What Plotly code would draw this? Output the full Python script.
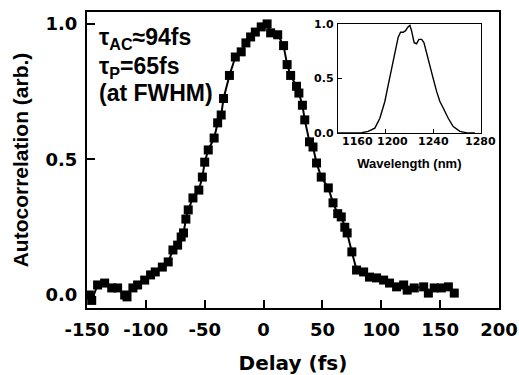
import plotly.graph_objects as go

# Autocorrelation data (delay in fs, normalized signal)
delay_fs = [-148, -146, -141, -135, -129, -124, -118, -116, -111, -107, -101, -96, -92, -86,
            -81, -77, -73, -70, -68, -66, -64, -60, -55, -52, -50, -47, -42, -39, -36, -34,
            -29, -24, -19, -15, -11, -7, -2, 3, 6, 12, 17, 20, 23, 28, 30, 33, 35, 39, 42,
            45, 49, 55, 59, 63, 66, 69, 71, 75, 79, 85, 90, 96, 102, 107, 113, 119, 122,
            128, 136, 140, 145, 151, 157, 162]
autocorr = [0.0, -0.02, 0.037, 0.044, 0.026, 0.026, 0.0, -0.007, 0.026, 0.037, 0.055, 0.074,
            0.085, 0.103, 0.122, 0.166, 0.184, 0.214, 0.229, 0.28, 0.314, 0.358, 0.387, 0.435,
            0.49, 0.535, 0.579, 0.635, 0.664, 0.725, 0.81, 0.878, 0.897, 0.93, 0.952, 0.97,
            0.989, 1.0, 0.967, 0.96, 0.92, 0.85, 0.81, 0.77, 0.745, 0.70, 0.646, 0.565, 0.546,
            0.487, 0.435, 0.395, 0.34, 0.30, 0.288, 0.25, 0.229, 0.159, 0.092, 0.085, 0.066,
            0.063, 0.055, 0.044, 0.03, 0.037, 0.018, 0.026, 0.03, 0.007, 0.026, 0.026, 0.03,
            0.007]

# Inset spectrum
wavelength_nm = [1160, 1175, 1180, 1185.4, 1191, 1195.2, 1199.4, 1202.2, 1205, 1207.8, 1210.6,
                 1212.6, 1214.8, 1216.8, 1218.5, 1220.4, 1221.8, 1224, 1226, 1228, 1230.3,
                 1232.2, 1234.5, 1237.2, 1240, 1242.9, 1245.6, 1248.4, 1252.6, 1256.8, 1262.4,
                 1269.4, 1275]
spectrum = [0.0, 0.0, 0.003, 0.015, 0.045, 0.136, 0.29, 0.44, 0.59, 0.74, 0.88, 0.925, 0.925,
            0.94, 0.97, 0.99, 0.94, 0.83, 0.82, 0.86, 0.86, 0.83, 0.74, 0.62, 0.50, 0.38, 0.29,
            0.23, 0.136, 0.06, 0.015, 0.0, 0.0]

main_xticks = [-150, -100, -50, 0, 50, 100, 150, 200]
main_xticklabels = ["-150", "-100", "-50", "0", "50", "100", "150", "200"]
main_yticks = [0.0, 0.5, 1.0]
main_yticklabels = ["0.0", "0.5", "1.0"]
inset_xticks = [1160, 1200, 1240, 1280]
inset_xticklabels = ["1160", "1200", "1240", "1280"]
inset_xlabel_shift = [20, 7, 0, 0]
inset_yticks = [0.0, 0.5, 1.0]
inset_yticklabels = ["0.0", "0.5", "1.0"]

TICKFONT = dict(family="DejaVu Sans", size=18, color="black", weight="bold")
SMALLFONT = dict(family="DejaVu Sans", size=11, color="black", weight="bold")
ARIALB = "Liberation Sans"

fig = go.Figure()
fig.add_trace(go.Scatter(
    x=delay_fs, y=autocorr, mode="lines+markers",
    line=dict(color="black", width=2),
    marker=dict(symbol="square", size=9, color="black"),
    xaxis="x", yaxis="y", showlegend=False))
fig.add_trace(go.Scatter(
    x=wavelength_nm, y=spectrum, mode="lines",
    line=dict(color="black", width=1.4),
    xaxis="x2", yaxis="y2", showlegend=False))

annotations = []
for v, t, s in zip(inset_xticks, inset_xticklabels, inset_xlabel_shift):
    annotations.append(dict(text=t, xref="x2", yref="y2", x=v, y=0, xanchor="center",
                            yanchor="top", xshift=s, yshift=0, showarrow=False,
                            font=SMALLFONT))
annotations += [
    dict(text="τ<sub>AC</sub>≈94fs", xref="paper", yref="paper", x=0.024, y=0.912,
         xanchor="left", yanchor="middle", showarrow=False,
         font=dict(family=ARIALB, size=23, color="black", weight="bold")),
    dict(text="τ<sub>P</sub>=65fs", xref="paper", yref="paper", x=0.024, y=0.812,
         xanchor="left", yanchor="middle", showarrow=False,
         font=dict(family=ARIALB, size=23, color="black", weight="bold")),
    dict(text="(at FWHM)", xref="paper", yref="paper", x=0.024, y=0.725,
         xanchor="left", yanchor="middle", showarrow=False,
         font=dict(family=ARIALB, size=23, color="black", weight="bold")),
]

fig.update_layout(
    width=519, height=375,
    margin=dict(l=87, r=20, t=12, b=67, autoexpand=False),
    paper_bgcolor="white", plot_bgcolor="white",
    xaxis=dict(domain=[0, 1], range=[-150, 200], tickvals=main_xticks,
               ticktext=main_xticklabels, tickangle=0, automargin=False,
               ticks="inside", ticklen=8, tickwidth=1.5, tickcolor="black",
               showline=True, linecolor="black", linewidth=2, mirror=True,
               showgrid=False, zeroline=False, tickfont=TICKFONT,
               ticklabelstandoff=4,
               title=dict(text="Delay (fs)", standoff=18,
                          font=dict(family="DejaVu Sans", size=20, color="black", weight="bold"))),
    yaxis=dict(domain=[0, 1], range=[-0.048, 1.044], tickvals=main_yticks,
               ticktext=main_yticklabels, automargin=False,
               ticks="inside", ticklen=8, tickwidth=1.5, tickcolor="black",
               showline=True, linecolor="black", linewidth=2, mirror=True,
               showgrid=False, zeroline=False, tickfont=TICKFONT,
               ticklabelstandoff=4,
               title=dict(text="Autocorrelation (arb.)", standoff=11,
                          font=dict(family=ARIALB, size=21, color="black", weight="bold"))),
    xaxis2=dict(domain=[0.609, 0.956], anchor="y2", range=[1160, 1280],
                tickvals=inset_xticks, showticklabels=False, automargin=False,
                ticks="inside", ticklen=4, tickwidth=1, tickcolor="black",
                showline=True, linecolor="black", linewidth=1.3, mirror=True,
                showgrid=False, zeroline=False,
                title=dict(text="Wavelength (nm)", standoff=25,
                           font=dict(family=ARIALB, size=13, color="black", weight="bold"))),
    yaxis2=dict(domain=[0.591, 0.959], anchor="x2", range=[0, 1.0],
                tickvals=inset_yticks, ticktext=inset_yticklabels, automargin=False,
                ticks="inside", ticklen=4, tickwidth=1, tickcolor="black",
                showline=True, linecolor="black", linewidth=1.3, mirror=True,
                showgrid=False, zeroline=False, tickfont=SMALLFONT,
                ticklabelstandoff=1),
    annotations=annotations,
)

fig.write_html("out.html", config={"displayModeBar": False},
               post_script="document.body.style.margin='0px';")
